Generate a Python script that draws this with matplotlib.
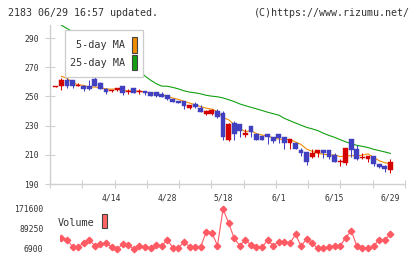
import numpy as np
import matplotlib
matplotlib.use("Agg")
import matplotlib.pyplot as plt
from matplotlib.patches import Rectangle
from matplotlib.transforms import Affine2D

# ---------------- data ----------------
tick_idx = [10, 20, 30, 40, 50, 60]
tick_labels = ["4/14", "4/28", "5/18", "6/1", "6/15", "6/29"]

opens = [256.8, 257.0, 261.2, 261.0, 257.5, 257.5, 257.3, 261.7, 259.4, 255.0,
         253.5, 254.3, 257.0, 253.0, 255.5, 253.2, 253.7, 253.2, 253.0, 251.5,
         251.0, 248.2, 246.8, 246.8, 242.3, 245.0, 242.3, 238.0, 238.0, 240.2,
         238.5, 220.1, 231.6, 231.0, 223.7, 229.7, 224.2, 222.9, 224.2, 222.4,
         224.2, 222.4, 218.3, 218.3, 213.3, 212.0, 208.3, 211.4, 213.3, 213.3,
         210.0, 205.0, 204.6, 220.8, 214.0, 207.8, 207.1, 209.2, 203.7, 202.3,
         199.6]
highs = [257.5, 263.0, 262.5, 261.2, 259.5, 257.8, 261.0, 264.0, 259.6, 255.5,
         254.5, 256.0, 257.1, 255.0, 255.6, 255.0, 253.8, 253.3, 253.1, 253.0,
         251.1, 248.3, 246.9, 246.9, 244.5, 246.0, 244.0, 240.7, 241.3, 241.2,
         240.2, 231.5, 233.5, 231.1, 227.4, 229.8, 225.0, 223.0, 224.3, 222.5,
         224.3, 222.5, 221.0, 218.4, 214.4, 212.1, 213.8, 213.5, 213.4, 213.4,
         211.5, 207.0, 215.0, 220.9, 216.7, 211.0, 209.5, 209.3, 203.8, 203.0,
         207.0]
lows = [256.5, 254.5, 255.5, 255.5, 257.0, 253.7, 254.5, 257.0, 255.0, 251.4,
        253.0, 254.0, 251.0, 252.0, 252.5, 251.5, 251.0, 250.2, 249.8, 249.7,
        247.5, 246.2, 245.5, 241.3, 241.5, 242.0, 239.2, 237.5, 237.3, 235.0,
        220.0, 219.5, 220.0, 222.0, 222.0, 222.4, 220.4, 220.0, 217.4, 218.3,
        218.0, 214.2, 213.8, 213.7, 209.2, 203.0, 207.6, 208.7, 207.6, 206.9,
        205.2, 202.0, 203.0, 208.7, 206.4, 207.3, 205.3, 202.5, 200.7, 198.4,
        197.7]
closes = [257.2, 261.2, 257.0, 257.0, 258.0, 255.0, 255.0, 257.3, 255.3, 253.2,
          254.0, 255.7, 252.5, 253.7, 252.7, 253.8, 252.3, 250.3, 250.0, 249.8,
          248.2, 246.3, 245.6, 243.6, 244.0, 242.7, 239.3, 240.2, 240.5, 235.7,
          222.4, 231.1, 224.5, 226.5, 225.0, 225.8, 220.5, 220.1, 222.4, 219.8,
          221.3, 218.3, 220.6, 213.8, 211.4, 205.3, 211.0, 213.3, 211.0, 208.7,
          205.3, 205.5, 214.9, 213.3, 207.1, 208.2, 209.4, 203.5, 201.9, 200.0,
          204.9]
ma5 = [np.nan, 263.8, 262.5, 259.5, 258.0, 257.6, 256.4, 256.5, 256.1, 255.2,
       255.0, 255.1, 254.1, 253.8, 253.7, 253.7, 253.0, 252.6, 251.8, 251.2,
       250.1, 248.9, 248.0, 246.7, 245.5, 244.4, 243.0, 242.0, 241.3, 239.7,
       235.6, 234.0, 230.8, 228.0, 225.9, 226.6, 224.5, 223.6, 222.8, 221.7,
       220.8, 220.4, 220.5, 218.8, 217.1, 213.9, 212.4, 211.0, 210.4, 209.9,
       209.9, 208.8, 209.1, 209.5, 209.2, 209.8, 210.6, 208.3, 206.0, 204.6,
       203.9]
ma25 = [np.nan, 298.9, 296.6, 294.5, 292.5, 290.5, 288.5, 286.5, 284.5, 282.5,
        280.5, 278.0, 275.5, 273.0, 270.5, 267.5, 264.0, 261.2, 258.8, 257.1,
        257.0, 256.2, 255.2, 253.9, 253.0, 252.5, 251.8, 250.8, 250.2, 249.8,
        249.0, 247.8, 246.5, 244.9, 243.7, 242.6, 241.5, 240.4, 239.2, 238.2,
        237.2, 235.0, 233.4, 231.8, 230.3, 228.8, 227.8, 226.6, 224.8, 223.3,
        222.0, 220.4, 218.9, 217.6, 216.5, 215.8, 215.0, 213.8, 212.9, 212.0,
        211.0]
volume = [55000, 52000, 46000, 16500, 16500, 30200, 44000, 20600, 27500, 30200,
          16500, 6900, 26100, 23400, 6900, 20600, 16500, 12400, 23400, 20600,
          44000, 12400, 12400, 34500, 16500, 16500, 16500, 78300, 74100, 20600,
          171600, 114000, 50800, 20600, 44000, 23400, 16500, 13900, 44000, 20600,
          37000, 34500, 30200, 67300, 19300, 48100, 30200, 9600, 9600, 16500,
          19300, 19300, 53400, 82300, 19300, 12400, 9600, 19300, 44000, 44000,
          67300]
vol_ticks = [6900, 89250, 171600]

# ---------------- styling ----------------
MONO = "DejaVu Sans Mono"
RED = "#d40000"
BLUE = "#4040c0"
ORANGE = "#f08c00"
GREEN = "#12a012"
VOLC = "#ff5a64"
GRID = "#d0d0d0"
TXT = "#333333"

W, H = 420, 259
fig = plt.figure(figsize=(W / 100, H / 100), dpi=100)
fig.patch.set_facecolor("white")
pix = Affine2D().scale(1 / W, -1 / H).translate(0, 1) + fig.transFigure

o = np.array(opens); c = np.array(closes)
hi = np.array(highs); lo = np.array(lows)
idx = np.arange(len(o))
up = c >= o
cols = np.where(up, RED, BLUE)

XL = (-1.04, 62.64)

# ---------------- main axes ----------------
ax = fig.add_axes([50 / W, (H - 184) / H, 355 / W, 159 / H])
ax.set_xlim(*XL)
ax.set_ylim(190, 299)
for s in ["top", "right"]:
    ax.spines[s].set_visible(False)
for s in ["left", "bottom"]:
    ax.spines[s].set_color(GRID)
    ax.spines[s].set_linewidth(1.0)

ax.plot(idx, ma25, color=GREEN, lw=0.8, zorder=2)
ax.plot(idx, ma5, color=ORANGE, lw=0.8, zorder=2)
ax.vlines(idx, lo, hi, colors=cols, lw=0.75, zorder=3)
bodies = np.maximum(np.abs(c - o), 0.7)
ax.bar(idx, bodies, bottom=np.minimum(o, c), width=0.86, color=cols,
       edgecolor=cols, linewidth=0.3, zorder=4)

ax.set_yticks([190, 210, 230, 250, 270, 290])
ax.tick_params(axis="y", direction="inout", length=6.5, width=0.8, color=GRID,
               pad=4.6, labelsize=5.8, labelcolor=TXT)
ax.set_xticks(tick_idx)
ax.set_xticklabels(tick_labels)
ax.set_xticks(np.linspace(XL[0], XL[1], 12), minor=True)
ax.tick_params(axis="x", which="major", length=0, pad=7.0, labelsize=5.8,
               labelcolor=TXT)
ax.tick_params(axis="x", which="minor", direction="inout", length=6, width=0.8,
               color=GRID)
for lab in ax.get_xticklabels() + ax.get_yticklabels():
    lab.set_family(MONO)

# ---------------- volume axes ----------------
vx0 = 59.5
i0 = XL[0] + (vx0 - 50) / 355 * (XL[1] - XL[0])
av = fig.add_axes([vx0 / W, (H - 253) / H, (405 - vx0) / W, 48 / H])
av.set_xlim(i0, XL[1])
av.set_ylim(6900 - 4 * 4117.5, 171600 + 4 * 4117.5)
for s in av.spines.values():
    s.set_visible(False)
av.patch.set_alpha(0)
av.plot(idx, volume, color=VOLC, lw=0.8, marker="D", ms=3.3, mec=VOLC, mfc=VOLC)
av.set_xticks([])
av.set_yticks(vol_ticks)
av.set_yticklabels([str(v) for v in vol_ticks])
av.tick_params(axis="y", length=0, pad=(vx0 - 43.5) * 0.72, labelsize=5.8,
               labelcolor=TXT)
for lab in av.get_yticklabels():
    lab.set_family(MONO)

# ---------------- legends ----------------
fig.add_artist(Rectangle((65.3, 30), 78, 47.3, transform=pix, facecolor="white",
                         edgecolor="#cccccc", linewidth=0.9, zorder=5))
fig.text(125, 45.5, "5-day MA", transform=pix, ha="right", va="center",
         fontsize=7.3, family=MONO, color=TXT, zorder=6)
fig.text(125, 62.5, "25-day MA", transform=pix, ha="right", va="center",
         fontsize=7.3, family=MONO, color=TXT, zorder=6)
fig.add_artist(Rectangle((131.5, 37), 5.6, 15.6, transform=pix, facecolor=ORANGE,
                         edgecolor="#444444", linewidth=0.8, zorder=6))
fig.add_artist(Rectangle((131.5, 54.5), 5.6, 15.0, transform=pix, facecolor=GREEN,
                         edgecolor="#444444", linewidth=0.8, zorder=6))

fig.text(58, 222.5, "Volume", transform=pix, ha="left", va="center",
         fontsize=7.3, family=MONO, color=TXT, zorder=6)
fig.add_artist(Rectangle((102, 213.5), 5.4, 14.6, transform=pix, facecolor="#ff6464",
                         edgecolor="#444444", linewidth=0.8, zorder=6))

# ---------------- header ----------------
fig.text(8, 12.5, "2183 06/29 16:57 updated.", transform=pix, ha="left",
         va="center", fontsize=7.2, family=MONO, color=TXT)
fig.text(410, 12.5, "(C)https://www.rizumu.net/", transform=pix, ha="right",
         va="center", fontsize=7.2, family=MONO, color=TXT)

fig.savefig("out.png", dpi=100, facecolor="white")
